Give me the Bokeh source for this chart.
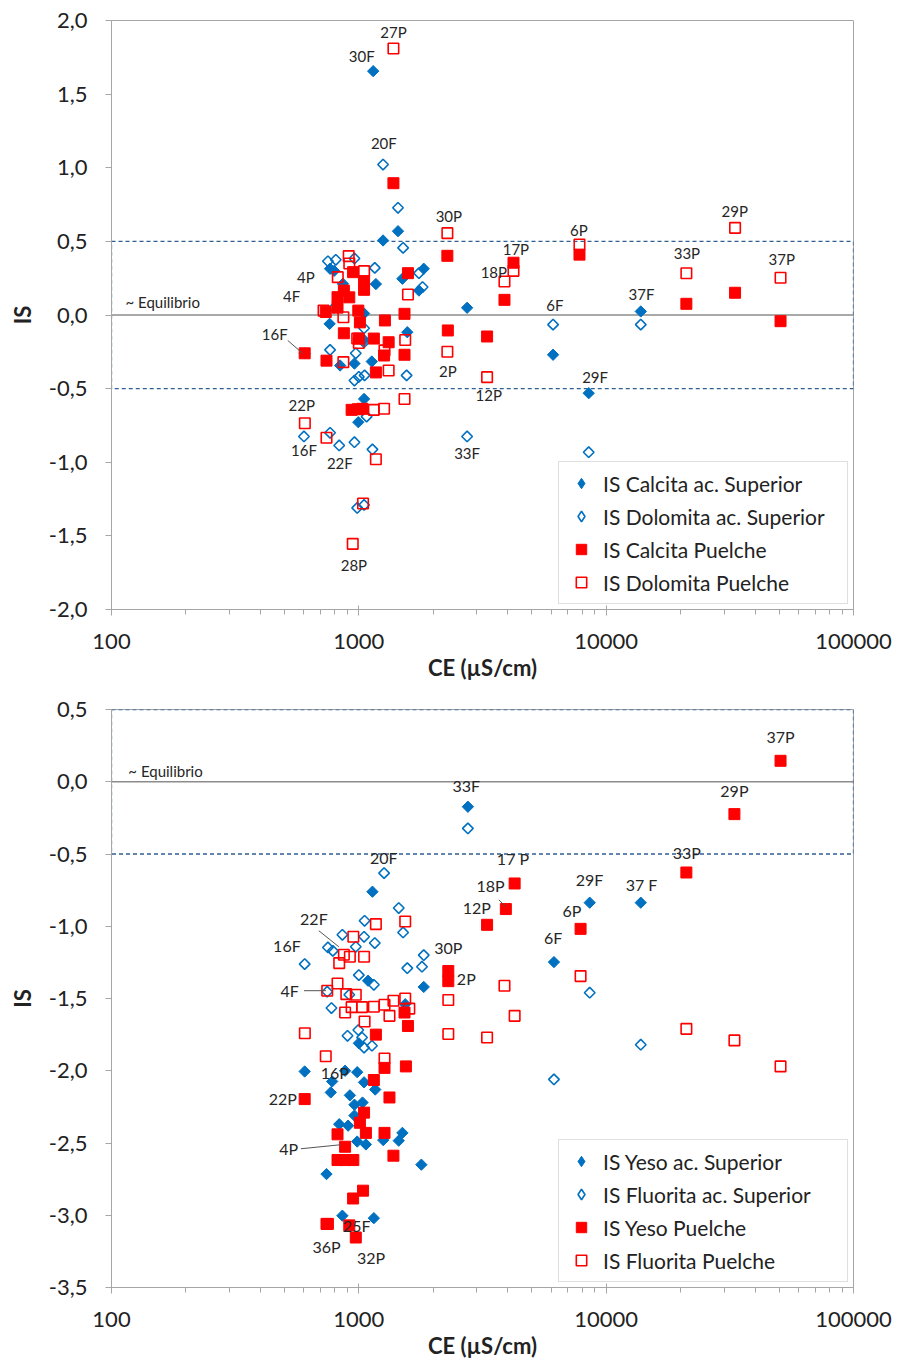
from bokeh.plotting import figure
from bokeh.layouts import column
from bokeh.models import (Range1d, FixedTicker, NumeralTickFormatter, CustomJSTickFormatter,
                          Span, BoxAnnotation, Legend, LegendItem, ColumnDataSource)
from bokeh.embed import file_html
from bokeh.resources import INLINE
from bokeh.core.properties import value
import math

# ---------------- DATA: top chart (Calcita / Dolomita) ----------------
calc_sup_ce = [1143, 1440, 1253, 765, 795, 862, 1172, 1500, 1830, 1750, 2740, 762, 1050, 1570,
               840, 960, 1128, 1050, 995, 6100, 8500, 13800, 604, 1050]
calc_sup_is = [1.656, 0.569, 0.506, 0.314, 0.300, 0.212, 0.210, 0.246, 0.314, 0.166, 0.049, -0.060,
               0.010, -0.117, -0.343, -0.330, -0.316, -0.570, -0.728, -0.270, -0.531, 0.024, -0.260, -0.170]

dolo_sup_ce = [1253, 1440, 1510, 750, 807, 960, 1160, 1750, 1810, 795, 1050, 765, 972, 1050, 1560,
               960, 1000, 1075, 600, 765, 833, 960, 1135, 985, 1050, 2740, 6100, 8500, 13800, 1055]
dolo_sup_is = [1.022, 0.728, 0.456, 0.365, 0.375, 0.384, 0.320, 0.284, 0.190, 0.050, -0.090, -0.237,
               -0.260, -0.185, -0.410, -0.445, -0.420, -0.690, -0.825, -0.800, -0.886, -0.864, -0.913,
               -1.310, -1.290, -0.825, -0.065, -0.932, -0.065, -0.410]

calc_p_ce = [1380, 2280, 948, 1050, 1050, 1580, 820, 915, 870, 735, 820, 995, 1010, 1275, 1530, 2290,
             870, 1000, 1150, 1320, 1530, 1265, 1172, 740, 604, 935, 1035, 990, 4220, 3880, 3300,
             7800, 21100, 33200, 50700]
calc_p_is = [0.895, 0.402, 0.291, 0.230, 0.171, 0.284, 0.121, 0.120, 0.166, 0.020, 0.050, 0.030, -0.050,
             -0.037, 0.008, -0.105, -0.124, -0.160, -0.160, -0.185, -0.270, -0.275, -0.390, -0.310,
             -0.260, -0.644, -0.637, -0.640, 0.355, 0.103, -0.146, 0.410, 0.076, 0.151, -0.042]

dolo_p_ce = [1380, 2280, 910, 915, 1050, 822, 1580, 720, 866, 985, 1000, 1540, 1270, 866, 1320, 2280,
             1150, 1265, 1530, 605, 740, 1172, 1040, 945, 4220, 3880, 3300, 7800, 21100, 33200, 50700]
dolo_p_is = [1.810, 0.556, 0.400, 0.350, 0.298, 0.257, 0.139, 0.030, -0.015, -0.160, -0.190, -0.170,
             -0.240, -0.320, -0.377, -0.250, -0.644, -0.637, -0.570, -0.735, -0.834, -0.980, -1.280,
             -1.554, 0.300, 0.228, -0.422, 0.479, 0.284, 0.592, 0.253]

top_lbl_text = ["27P", "30F", "20F", "30P", "6P", "29P", "17P", "18P", "33P", "37P", "4P", "4F",
                "6F", "37F", "16F", "2P", "12P", "29F", "22P", "16F", "22F", "33F", "28P"]
top_lbl_ce = [1380, 1028, 1262, 2312, 7760, 33100, 4315, 3515, 21200, 51300, 611, 535,
              6200, 13900, 457, 2290, 3350, 9020, 588, 600, 838, 2740, 955]
top_lbl_is = [1.92, 1.762, 1.171, 0.669, 0.58, 0.703, 0.445, 0.295, 0.418, 0.377, 0.261, 0.126,
              0.071, 0.146, -0.126, -0.377, -0.54, -0.418, -0.614, -0.92, -1.008, -0.94, -1.70]
top_leader_ce = [[516, 594]]
top_leader_is = [[-0.173, -0.262]]

# ---------------- DATA: bottom chart (Yeso / Fluorita) ----------------
yeso_sup_ce = [2760, 8580, 13800, 6150, 1135, 1830, 1090, 1000, 604, 985, 880, 780, 770, 1050, 1165,
               920, 960, 1035, 960, 833, 905, 1500, 1450, 1255, 985, 1068, 740, 1790, 858, 1150, 1540]
yeso_sup_is = [-0.173, -0.837, -0.837, -1.248, -0.761, -1.420, -1.377, -1.810, -2.005, -2.010, -2.000,
               -2.074, -2.150, -2.080, -2.130, -2.170, -2.235, -2.220, -2.310, -2.370, -2.380, -2.430,
               -2.484, -2.480, -2.490, -2.510, -2.715, -2.650, -3.003, -3.020, -1.540]

fluo_sup_ce = [2760, 1265, 1450, 1510, 1055, 1050, 1160, 858, 972, 750, 785, 604, 1000, 1150, 1570,
               1800, 1830, 745, 915, 775, 995, 900, 1030, 1130, 1050, 8580, 6150, 13800]
fluo_sup_is = [-0.323, -0.632, -0.874, -1.043, -0.962, -1.073, -1.116, -1.059, -1.142, -1.147, -1.170,
               -1.262, -1.338, -1.405, -1.290, -1.280, -1.200, -1.453, -1.474, -1.566, -1.718, -1.758,
               -1.770, -1.827, -1.840, -1.460, -2.060, -1.820]

yeso_p_ce = [50700, 33000, 21100, 4265, 3930, 3300, 7880, 2300, 2300, 1530, 1580, 1172, 1550, 1270,
             604, 1150, 1330, 1050, 1010, 1068, 1270, 820, 880, 1380, 820, 880, 950, 1040, 948, 740,
             750, 915, 972]
yeso_p_is = [0.145, -0.224, -0.628, -0.704, -0.881, -0.990, -1.018, -1.310, -1.380, -1.597, -1.690,
             -1.750, -1.970, -1.980, -2.196, -2.064, -2.185, -2.290, -2.360, -2.430, -2.430, -2.440,
             -2.526, -2.588, -2.618, -2.618, -2.618, -2.830, -2.884, -3.060, -3.060, -3.070, -3.154]

fluo_p_ce = [2300, 2300, 3880, 4265, 3300, 7880, 21100, 33000, 50700, 1172, 1540, 950, 870, 920, 1050,
             833, 820, 745, 890, 972, 1380, 1540, 1270, 1150, 1030, 935, 880, 1330, 1600, 1055, 605,
             735, 1270]
fluo_p_is = [-1.510, -1.746, -1.412, -1.620, -1.770, -1.345, -1.710, -1.790, -1.970, -0.985, -0.967,
             -1.073, -1.197, -1.211, -1.211, -1.255, -1.396, -1.446, -1.470, -1.474, -1.516, -1.500,
             -1.543, -1.557, -1.560, -1.560, -1.597, -1.620, -1.570, -1.659, -1.740, -1.900, -1.915]

bot_lbl_text = ["33F", "37P", "29P", "33P", "20F", "17 P", "18P", "29F", "37 F", "12P", "6P", "6F",
                "22F", "16F", "30P", "2P", "4F", "16P", "22P", "4P", "25F", "36P", "32P"]
bot_lbl_ce = [2720, 50700, 33000, 21200, 1262, 4200, 3410, 8560, 13900, 3000, 7270, 6100,
              658, 512, 2300, 2720, 525, 800, 493, 520, 980, 740, 1120]
bot_lbl_is = [-0.028, 0.311, -0.062, -0.491, -0.526, -0.533, -0.72, -0.678, -0.713, -0.872, -0.893,
              -1.08, -0.948, -1.135, -1.149, -1.363, -1.446, -2.014, -2.194, -2.54, -3.07, -3.218, -3.29]
bot_leader_ce = [[689, 830], [600, 736], [583, 845], [3680, 3930]]
bot_leader_is = [[-1.031, -1.142], [-1.446, -1.446], [-2.54, -2.512], [-0.817, -0.865]]

EQ_LOW, EQ_HIGH = -0.5, 0.5
X_TICKS = [100, 1000, 10000, 100000]
X_MINOR = [m * d for d in (100, 1000, 10000) for m in range(2, 10)]
Y_TICKS_TOP = [-2.0, -1.5, -1.0, -0.5, 0.0, 0.5, 1.0, 1.5, 2.0]
Y_TICKS_BOT = [-3.5, -3.0, -2.5, -2.0, -1.5, -1.0, -0.5, 0.0, 0.5]

BLUE = "#0070C0"
RED = "#FF0000"
AXIS_GRAY = "#A6A6A6"
FONT = "Lato"
NAN = float("nan")


def make_fig(height, border_top, border_bottom, y_lo, y_hi, y_ticks):
    p = figure(width=899, height=height, x_axis_type="log",
               x_range=Range1d(100, 100000), y_range=Range1d(y_lo, y_hi),
               output_backend="svg", toolbar_location=None,
               min_border_left=111, min_border_right=46,
               min_border_top=border_top, min_border_bottom=border_bottom)
    p.xgrid.visible = False
    p.ygrid.visible = False
    p.outline_line_color = AXIS_GRAY
    p.outline_line_width = 1
    p.background_fill_color = "white"
    p.border_fill_color = "white"

    xa = p.xaxis[0]
    xa.ticker = FixedTicker(ticks=X_TICKS, minor_ticks=X_MINOR)
    xa.formatter = NumeralTickFormatter(format="0")
    xa.axis_line_color = AXIS_GRAY
    xa.major_tick_line_color = AXIS_GRAY
    xa.minor_tick_line_color = AXIS_GRAY
    xa.major_tick_in = 4
    xa.major_tick_out = 6
    xa.minor_tick_in = 0
    xa.minor_tick_out = 5
    xa.major_label_text_font = FONT
    xa.major_label_text_font_size = "22px"
    xa.major_label_text_color = "#222222"
    xa.major_label_standoff = 18
    xa.axis_label = "CE (µS/cm)"
    xa.axis_label_text_font = FONT
    xa.axis_label_text_font_size = "22px"
    xa.axis_label_text_font_style = "bold"
    xa.axis_label_text_color = "#222222"
    xa.axis_label_standoff = 2

    ya = p.yaxis[0]
    ya.ticker = FixedTicker(ticks=y_ticks)
    ya.formatter = CustomJSTickFormatter(code="""
        var v = Math.abs(tick) < 1e-9 ? 0 : tick;
        return v.toFixed(1).replace('.', ',');
    """)
    ya.axis_line_color = AXIS_GRAY
    ya.major_tick_line_color = AXIS_GRAY
    ya.minor_tick_line_color = None
    ya.major_tick_in = 0
    ya.major_tick_out = 6
    ya.major_label_text_font = FONT
    ya.major_label_text_font_size = "22px"
    ya.major_label_text_color = "#222222"
    ya.major_label_standoff = 18
    ya.axis_label = "IS"
    ya.axis_label_text_font = FONT
    ya.axis_label_text_font_size = "22px"
    ya.axis_label_text_font_style = "bold"
    ya.axis_label_text_color = "#222222"
    ya.axis_label_standoff = 10

    p.add_layout(BoxAnnotation(left=100, right=100000, bottom=EQ_LOW, top=EQ_HIGH,
                               fill_alpha=0, line_color="#2F5F92", line_alpha=1, line_width=1.3,
                               line_dash="4 3", level="underlay"))
    p.add_layout(Span(location=0, dimension="width", line_color="#8C8C8C",
                      line_width=1.6, level="underlay"))
    return p


def add_series(p, ce_fd, is_fd, ce_hd, is_hd, ce_fs, is_fs, ce_hs, is_hs, names):
    p.scatter(ce_fd, is_fd, marker="square", angle=math.pi / 4, size=8,
              fill_color=BLUE, line_color=BLUE, line_width=1)
    p.scatter(ce_hd, is_hd, marker="square", angle=math.pi / 4, size=7.5,
              fill_alpha=0, line_color=BLUE, line_width=1.6)
    p.scatter(ce_fs, is_fs, marker="square", size=11,
              fill_color=RED, line_color=RED, line_width=1)
    p.scatter(ce_hs, is_hs, marker="square", size=10.5,
              fill_alpha=0, line_color=RED, line_width=1.6)
    # legend-only glyphs (a single undrawn NaN point), so the legend shows proper shapes
    l1 = p.scatter([NAN], [NAN], marker="diamond", fill_color=BLUE, line_color=BLUE)
    l2 = p.scatter([NAN], [NAN], marker="diamond", fill_alpha=0, line_color=BLUE, line_width=1.6)
    l3 = p.scatter([NAN], [NAN], marker="square", fill_color=RED, line_color=RED)
    l4 = p.scatter([NAN], [NAN], marker="square", fill_alpha=0, line_color=RED, line_width=1.6)
    legend = Legend(items=[LegendItem(label=n, renderers=[r]) for n, r in zip(names, [l1, l2, l3, l4])],
                    location="bottom_right", margin=5,
                    label_text_font=FONT, label_text_font_size="21px",
                    label_text_color="#222222",
                    glyph_width=28, glyph_height=26, label_height=26, label_width=236,
                    label_standoff=8, spacing=7, padding=8,
                    border_line_color="#BFBFBF", border_line_width=1,
                    background_fill_color="white", background_fill_alpha=1)
    p.add_layout(legend)


def add_labels(p, texts, xs, ys, leaders_x, leaders_y, size):
    src = ColumnDataSource(dict(x=xs, y=ys, t=texts))
    p.text(x="x", y="y", text="t", source=src, text_align="center", text_baseline="middle",
           text_font=value(FONT), text_font_size=size, text_color="#262626")
    p.multi_line(xs=leaders_x, ys=leaders_y, line_color="#555555", line_width=1)


top = make_fig(683, 20, 74, -2.0, 2.0, Y_TICKS_TOP)
add_series(top, calc_sup_ce, calc_sup_is, dolo_sup_ce, dolo_sup_is, calc_p_ce, calc_p_is,
           dolo_p_ce, dolo_p_is,
           ["IS Calcita ac. Superior", "IS Dolomita ac. Superior",
            "IS Calcita Puelche", "IS Dolomita Puelche"])
add_labels(top, top_lbl_text, top_lbl_ce, top_lbl_is, top_leader_ce, top_leader_is, "15px")
top.text(x=[114], y=[0.085], text=["~ Equilibrio"], text_align="left", text_baseline="middle",
         text_font=value(FONT), text_font_size="15px", text_color="#262626")

bot = make_fig(679, 26, 75, -3.5, 0.5, Y_TICKS_BOT)
add_series(bot, yeso_sup_ce, yeso_sup_is, fluo_sup_ce, fluo_sup_is, yeso_p_ce, yeso_p_is,
           fluo_p_ce, fluo_p_is,
           ["IS Yeso ac. Superior", "IS Fluorita ac. Superior",
            "IS Yeso Puelche", "IS Fluorita Puelche"])
add_labels(bot, bot_lbl_text, bot_lbl_ce, bot_lbl_is, bot_leader_ce, bot_leader_is, "16px")
bot.text(x=[117], y=[0.076], text=["~ Equilibrio"], text_align="left", text_baseline="middle",
         text_font=value(FONT), text_font_size="15px", text_color="#262626")

layout = column(top, bot, spacing=0)
open("out.html", "w").write(file_html(layout, INLINE))
